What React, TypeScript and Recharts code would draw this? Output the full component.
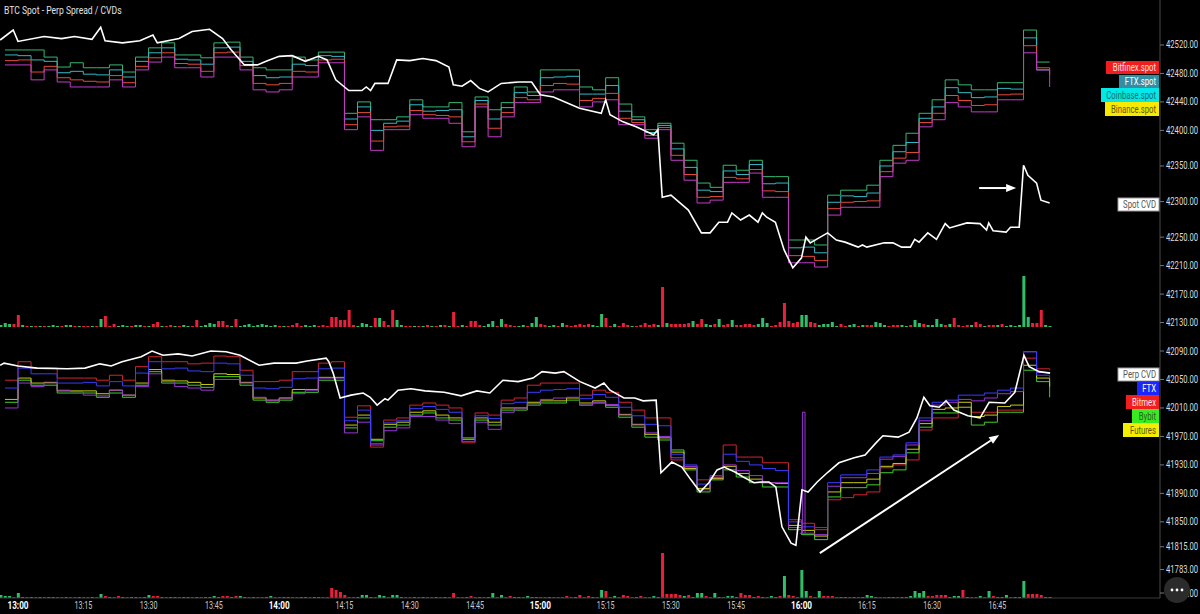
import React from 'react';
import { ComposedChart, Line, Bar, Cell, XAxis, YAxis, ReferenceLine } from 'recharts';

// minutes measured from 13:00
const FIRST_MIN = -4;
const PRICE_START = -3;
const PRICE_STEP = 3;
const START_HOUR = 13;

const timeTicks = [0, 15, 30, 45, 60, 75, 90, 105, 120, 135, 150, 165, 180, 195, 210, 225];
const priceTicks = [42520, 42480, 42440, 42400, 42350, 42300, 42250, 42210, 42170, 42130, 42090, 42050, 42010, 41970, 41930, 41890, 41850, 41815, 41783, 41750];

// ---- spot prices (3-minute steps from 12:57) ----
const coinbaseSpot = [42513, 42513, 42513, 42503, 42489, 42495, 42488, 42488, 42492, 42482,
  42503, 42516, 42523, 42506, 42506, 42502, 42523, 42524, 42503, 42488,
  42485, 42485, 42503, 42499, 42510, 42510, 42424, 42440, 42415, 42415,
  42419, 42443, 42433, 42433, 42439, 42398, 42447, 42429, 42439, 42461,
  42454, 42485, 42485, 42485, 42461, 42457, 42474, 42437, 42419, 42401,
  42410, 42382, 42358, 42326, 42320, 42351, 42344, 42358, 42335, 42335,
  42246, 42246, 42239, 42309, 42316, 42316, 42323, 42358, 42379, 42396,
  42424, 42443, 42471, 42464, 42457, 42457, 42467, 42467, 42541, 42496, 42496];
const ftxSpot = [42506, 42505, 42499, 42497, 42481, 42483, 42479, 42478, 42485, 42475,
  42497, 42509, 42516, 42500, 42499, 42493, 42516, 42517, 42497, 42477,
  42474, 42475, 42493, 42491, 42505, 42504, 42416, 42433, 42400, 42410,
  42413, 42436, 42427, 42428, 42429, 42391, 42442, 42416, 42432, 42453,
  42449, 42474, 42475, 42476, 42451, 42451, 42463, 42427, 42415, 42397,
  42407, 42374, 42348, 42316, 42314, 42343, 42338, 42352, 42325, 42326,
  42235, 42236, 42228, 42299, 42308, 42307, 42312, 42350, 42370, 42383,
  42417, 42433, 42460, 42453, 42446, 42447, 42459, 42458, 42530, 42485, 42484];
const bitfinexSpot = [42498, 42499, 42482, 42490, 42474, 42471, 42469, 42468, 42477, 42467,
  42490, 42502, 42509, 42494, 42493, 42483, 42509, 42510, 42491, 42466,
  42464, 42466, 42483, 42482, 42499, 42500, 42408, 42425, 42385, 42405,
  42406, 42428, 42422, 42421, 42419, 42384, 42437, 42403, 42425, 42446,
  42443, 42463, 42466, 42465, 42442, 42445, 42452, 42417, 42411, 42393,
  42404, 42365, 42338, 42306, 42307, 42334, 42332, 42345, 42315, 42314,
  42224, 42223, 42217, 42290, 42299, 42300, 42301, 42342, 42361, 42369,
  42411, 42424, 42449, 42442, 42435, 42436, 42450, 42451, 42519, 42488, 42478];
const binanceSpot = [42492, 42492, 42471, 42485, 42468, 42461, 42461, 42461, 42471, 42461,
  42485, 42496, 42503, 42488, 42488, 42475, 42503, 42503, 42485, 42457,
  42454, 42457, 42475, 42475, 42495, 42495, 42401, 42419, 42372, 42401,
  42401, 42422, 42417, 42417, 42410, 42377, 42433, 42391, 42419, 42439,
  42439, 42454, 42457, 42457, 42433, 42440, 42443, 42408, 42408, 42389,
  42401, 42358, 42330, 42298, 42302, 42327, 42327, 42340, 42306, 42306,
  42214, 42214, 42208, 42281, 42292, 42292, 42292, 42335, 42354, 42358,
  42405, 42415, 42439, 42433, 42426, 42426, 42443, 42443, 42509, 42485, 42461];

// ---- perp prices (same 3-minute steps) ----
const bitmexPerp = [42049, 42075, 42066, 42066, 42052, 42052, 42052, 42049, 42056, 42049,
  42068, 42082, 42075, 42075, 42072, 42073, 42083, 42082, 42063, 42047,
  42047, 42049, 42061, 42061, 42073, 42075, 41997, 42013, 41955, 41993,
  41996, 42014, 42017, 42014, 42010, 41961, 42003, 42000, 42021, 42024,
  42042, 42045, 42045, 42045, 42028, 42035, 42032, 42018, 42007, 41996,
  41996, 41937, 41927, 41909, 41913, 41958, 41941, 41941, 41933, 41933,
  41853, 41848, 41839, 41881, 41884, 41888, 41892, 41926, 41930, 41937,
  41979, 41996, 41996, 42011, 42004, 42004, 42007, 42007, 42080, 42065, 42063];
const bybitPerp = [42018, 42049, 42042, 42042, 42031, 42031, 42031, 42025, 42031, 42025,
  42042, 42061, 42045, 42045, 42042, 42039, 42054, 42054, 42042, 42021,
  42018, 42021, 42032, 42032, 42049, 42049, 41982, 41996, 41964, 41983,
  41986, 42000, 42003, 41996, 41993, 41968, 41993, 41986, 42007, 42007,
  42014, 42017, 42017, 42021, 42014, 42017, 42011, 41997, 41983, 41969,
  41965, 41951, 41923, 41892, 41909, 41923, 41913, 41905, 41899, 41899,
  41839, 41832, 41825, 41885, 41898, 41898, 41902, 41919, 41923, 41947,
  41983, 42003, 42003, 42011, 41986, 41990, 42004, 42004, 42063, 42047, 42025];
const ftxPerp = [42038, 42066, 42058, 42058, 42045, 42045, 42046, 42041, 42047, 42041,
  42059, 42075, 42065, 42066, 42062, 42061, 42073, 42072, 42056, 42038,
  42037, 42039, 42051, 42052, 42065, 42066, 41992, 42007, 41960, 41989,
  41992, 42009, 42012, 42008, 42004, 41963, 41999, 41995, 42016, 42018,
  42032, 42035, 42036, 42037, 42023, 42029, 42025, 42011, 41999, 41987,
  41985, 41945, 41930, 41903, 41915, 41945, 41935, 41930, 41925, 41922,
  41850, 41843, 41842, 41905, 41916, 41916, 41923, 41941, 41944, 41961,
  41996, 42018, 42021, 42028, 42028, 42031, 42035, 42038, 42089, 42056, 42052];
const otherPerp = [42010, 42045, 42040, 42045, 42035, 42033, 42028, 42027, 42035, 42028,
  42040, 42058, 42047, 42040, 42038, 42035, 42050, 42050, 42045, 42025,
  42020, 42024, 42030, 42035, 42052, 42052, 41975, 41990, 41958, 41978,
  41982, 41998, 41998, 41993, 41988, 41963, 41990, 41980, 42004, 42010,
  42016, 42022, 42024, 42025, 42014, 42018, 42015, 42000, 41986, 41975,
  41970, 41940, 41928, 41895, 41912, 41930, 41922, 41915, 41905, 41905,
  41842, 41834, 41832, 41900, 41912, 41912, 41918, 41938, 41942, 41958,
  41992, 42014, 42018, 42022, 42020, 42024, 42030, 42033, 42089, 42060, 42058];
const futuresPerp = [42022, 42052, 42045, 42046, 42034, 42034, 42034, 42030, 42035, 42028,
  42045, 42064, 42049, 42048, 42046, 42043, 42058, 42057, 42046, 42024,
  42021, 42024, 42036, 42036, 42053, 42053, 41986, 42000, 41966, 41987,
  41990, 42004, 42006, 42000, 41996, 41966, 41996, 41990, 42010, 42010,
  42018, 42020, 42020, 42024, 42017, 42020, 42014, 42001, 41987, 41973,
  41968, 41948, 41925, 41897, 41911, 41928, 41918, 41910, 41905, 41904,
  41845, 41838, 41830, 41892, 41905, 41905, 41910, 41928, 41932, 41952,
  41988, 42008, 42010, 42018, 41998, 42000, 42012, 42014, 42070, 42052, 42040];

// wick of the purple perp at 16:00
const spikeTimes = [179.6, 180.2, 180.8];
const spikeValues = [41834, 42004, 41834];

// ---- CVD lines ----
const spotCvdTimes = [-4.1, -1.1, 0, 6, 10, 13, 17, 19, 20, 24, 28, 31, 32, 37, 40, 44, 47, 49, 52, 55,
  57, 60, 63, 66, 69, 71, 73, 76, 79, 80, 81, 82, 85, 87, 90, 93, 96, 99, 100, 102,
  104, 106, 108, 111, 115, 118, 120, 123, 129, 134, 135, 136, 139, 142, 146, 147, 148, 150, 154, 157,
  159, 161, 163, 164, 166, 168, 170, 171, 172, 174, 176, 178, 180, 181, 182, 184, 186, 188, 190, 193,
  194, 195, 199, 201, 203, 205, 206, 207, 209, 211, 213, 214, 218, 221, 222.5, 223, 224, 227, 228, 230,
  231, 232, 234, 235, 237];
const spotCvdValues = [42527, 42541, 42525, 42532, 42529, 42532, 42528, 42545, 42526, 42523, 42526, 42534, 42523, 42529, 42539, 42542, 42529, 42513, 42492, 42492,
  42497, 42504, 42505, 42497, 42504, 42499, 42471, 42456, 42456, 42461, 42456, 42466, 42466, 42499, 42498, 42501, 42498, 42489, 42464, 42462,
  42470, 42459, 42454, 42466, 42468, 42468, 42450, 42447, 42431, 42424, 42443, 42422, 42412, 42405, 42394, 42401, 42306, 42309, 42288, 42256,
  42256, 42271, 42271, 42284, 42274, 42281, 42271, 42284, 42278, 42271, 42232, 42207, 42221, 42250, 42242, 42249, 42256, 42246, 42243, 42236,
  42239, 42236, 42242, 42242, 42236, 42236, 42247, 42243, 42256, 42247, 42269, 42263, 42270, 42269, 42260, 42270, 42259, 42257, 42264, 42264,
  42351, 42337, 42326, 42302, 42298];

const perpCvdTimes = [-4.1, -3.2, 0, 4.4, 11.3, 15.4, 18.8, 21.4, 23.9, 28.3, 30.8, 33.3, 36.8, 40, 44.3, 47.8, 51, 55.4, 58.8, 63.9,
  66.4, 70.8, 71.4, 72.4, 74, 76.5, 79.3, 80.9, 82.5, 84.3, 85, 87.3, 90.3, 93.5, 97.9, 101.8, 105.4, 108.4, 111.4, 114.9,
  118.3, 120.4, 123.4, 125.4, 129.1, 132.6, 134.6, 136, 139.2, 141.7, 143.6, 146.6, 147, 147.7, 150.2, 152.5, 154.6, 156.7, 158.7, 160.6,
  162.2, 164.7, 166.6, 169.1, 170.7, 172.5, 174.1, 175.5, 177.6, 178.7, 180.1, 181.5, 183.6, 186.1, 188.6, 192.1, 194.6, 197.1, 198.7, 202.2,
  204.7, 206.5, 208.1, 209.5, 211.6, 213.2, 215, 218.2, 221, 223.1, 226.7, 229, 231.1, 232.3, 234.6, 237.1];
const perpCvdValues = [42070, 42073, 42069, 42066, 42065, 42066, 42072, 42069, 42075, 42082, 42090, 42084, 42086, 42083, 42090, 42089, 42084, 42070, 42073, 42073,
  42076, 42080, 42075, 42059, 42024, 42028, 42031, 42025, 42014, 42023, 42021, 42035, 42037, 42034, 42032, 42027, 42034, 42031, 42049, 42047,
  42052, 42061, 42059, 42061, 42047, 42038, 42045, 42035, 42024, 42024, 42020, 42021, 41983, 41919, 41934, 41927, 41909, 41892, 41905, 41923,
  41927, 41920, 41913, 41905, 41906, 41906, 41899, 41843, 41820, 41817, 41895, 41892, 41906, 41920, 41933, 41940, 41944, 41961, 41971, 41969,
  41976, 41996, 42025, 42013, 42011, 42020, 42007, 41999, 41996, 42018, 42017, 42032, 42084, 42068, 42061, 42059];

// ---- 1-minute volumes from 12:56 (positive = buy/green, negative = sell/red) ----
const spotVolume = [2, 4, 3, -3, -12, 2, -1, 1, -1, 1,
  -1, 1, 2, 1, -1, 2, 2, -1, 1, -1,
  -1, 1, -1, 8, -11, -1, -3, 1, 2, 1,
  -1, 2, 2, -1, 1, -3, -5, 1, -1, -2,
  1, -1, 2, 1, -1, -7, 1, 2, 4, 3,
  -6, -6, -2, 1, -8, 1, 2, 3, 1, 2,
  3, 2, 1, 2, -1, 1, -1, -2, -4, -1,
  2, 1, 2, -1, -2, -1, -10, -10, -7, -7,
  -17, -2, 1, 4, 3, 1, -9, 9, -6, -2,
  -17, 7, 2, -1, -1, 1, -1, 1, -2, 1,
  -1, 2, -2, 1, -15, -1, 2, -1, -6, -6,
  -2, 1, 3, 6, -1, 8, -3, -2, -1, 1,
  2, -1, 4, 10, -3, -2, 1, 2, -1, 4,
  -2, -1, -2, -3, -2, -3, 2, 1, 13, -9,
  -1, 3, -1, -4, -2, 1, -1, -2, -4, -2,
  -3, 2, -40, 4, -3, -3, -3, -3, -4, 6,
  -3, -8, 3, 2, -3, 8, -2, -3, 7, -2,
  -2, -3, -3, -2, 3, 9, 4, -1, -2, -5,
  -24, -6, -4, -5, 12, 12, -5, -4, 2, 3,
  3, 5, 1, -3, -1, 2, 3, -1, 2, -2,
  -2, 5, 4, 2, -1, -2, -2, 2, 1, -2,
  7, 4, -3, 2, 2, 8, 3, -2, 3, -9,
  -2, -1, -2, 2, -5, -3, 1, -2, -2, 2,
  -3, 1, 2, 1, 2, 51, 10, -4, -4, -17,
  2, 1];
const perpVolume = [3, 2, 2, -1, 5, 1, -1, 1, -1, 1,
  -1, 1, 1, -1, -1, 1, -1, -1, 1, -1,
  -1, 1, -1, 4, -2, 1, -1, -2, 1, -1,
  1, 1, -1, 1, 3, -2, -2, 1, -1, 1,
  1, -1, 1, 1, -1, 1, -1, 1, 1, 2,
  1, -2, -2, 1, -2, 2, 1, -1, 1, -1,
  -1, 1, 2, -1, -1, 1, 1, -1, -1, 1,
  1, -1, 1, 1, -1, -1, -10, -8, -6, -3,
  -1, -1, 1, 3, 3, 1, -1, 3, 2, -1,
  3, 3, 1, -1, -1, 1, -1, 1, -1, -1,
  1, -1, 1, -1, -5, -1, -1, 1, -2, -1,
  1, -1, 1, 5, -1, 3, -1, -2, 1, 1,
  -1, 2, 1, 1, -1, -1, 1, -1, -1, -1,
  -2, -1, 1, -3, -1, -2, 1, -1, 8, -7,
  -1, 2, -1, -3, -2, -1, 1, -2, -1, -1,
  2, 1, -45, -4, -4, -4, -3, 2, -3, 1,
  5, 5, -2, -1, 5, 1, -1, 2, 2, 1,
  -5, -3, -3, 1, -2, 1, -1, 2, 1, -2,
  22, -3, -2, -1, 28, 7, -2, -1, 7, -2,
  -2, -2, -1, 1, 1, -1, 1, -1, 1, 3,
  2, 1, -1, -1, 1, 1, -1, 1, 1, 2,
  7, 5, 7, -2, -2, -3, -3, -3, 1, 2,
  2, -8, 1, -1, -1, 2, -1, 7, -2, 1,
  1, 3, -1, 1, 1, 17, -4, -4, -4, -3,
  1, 1];

// annotation arrows [startMinute, startValue, endMinute, endValue]
const spotArrow = [220.8, 42319, 229.3, 42319];
const perpArrow = [184.2, 41806, 225.4, 41972];

const priceSeries: Record<string, number[]> = {
  coinbaseSpot, ftxSpot, bitfinexSpot, binanceSpot,
  bitmexPerp, bybitPerp, futuresPerp, otherPerp, ftxPerp,
};

const rows: any[] = spotVolume.map((v, i) => ({
  t: FIRST_MIN + i,
  vt: Math.abs(v),
  vb: Math.abs(perpVolume[i]),
}));
coinbaseSpot.forEach((_, k) => {
  const t = PRICE_START + k * PRICE_STEP;
  const row = rows[t - FIRST_MIN];
  Object.keys(priceSeries).forEach((key) => {
    row[key] = priceSeries[key][k];
  });
});
const spotCvdData = spotCvdTimes.map((t, i) => ({ t, v: spotCvdValues[i] }));
const perpCvdData = perpCvdTimes.map((t, i) => ({ t, v: perpCvdValues[i] }));
const spikeData = spikeTimes.map((t, i) => ({ t, v: spikeValues[i] }));

const GREEN_VOL = '#2fbf69';
const RED_VOL = '#e8203a';
const FONT = 'Roboto, "Noto Sans", sans-serif';

const fmtTime = (m: number) => {
  const h = START_HOUR + Math.floor(m / 60);
  const mm = m % 60;
  return `${h}:${mm < 10 ? '0' + mm : mm}`;
};

const XTick = (props: any) => {
  const { x, y, payload } = props;
  const hour = payload.value % 60 === 0;
  return (
    <g transform={`translate(${x},${y + 11}) scale(${hour ? 0.78 : 0.68},1)`}>
      <text x={0} y={0} textAnchor="middle" fontFamily={FONT} fontSize={10.5}
        fontWeight={hour ? 700 : 400} fill={hour ? '#ffffff' : '#c9c9c9'}>
        {fmtTime(payload.value)}
      </text>
    </g>
  );
};

const YTick = (props: any) => {
  const { x, y, payload } = props;
  return (
    <g transform={`translate(${x},${y + 3.5}) scale(0.73,1)`}>
      <text x={0} y={0} textAnchor="start" fontFamily={FONT} fontSize={10.5} fill="#dcdcdc">
        {Number(payload.value).toFixed(2)}
      </text>
    </g>
  );
};

const Arrow = (props: any) => {
  const { x1, y1, x2, y2 } = props;
  if ([x1, y1, x2, y2].some((v) => typeof v !== 'number' || isNaN(v))) return null;
  const a = Math.atan2(y2 - y1, x2 - x1);
  const L = 10, W = 4;
  const bx = x2 - L * Math.cos(a);
  const by = y2 - L * Math.sin(a);
  const p1 = `${bx - W * Math.sin(a)},${by + W * Math.cos(a)}`;
  const p2 = `${bx + W * Math.sin(a)},${by - W * Math.cos(a)}`;
  return (
    <g>
      <line x1={x1} y1={y1} x2={bx} y2={by} stroke="#ffffff" strokeWidth={2} />
      <polygon points={`${x2},${y2} ${p1} ${p2}`} fill="#ffffff" />
    </g>
  );
};

const tags = [
  { text: 'Bitfinex.spot', x: 1106, y: 61, h: 13, fill: '#f21d1d', color: '#ffe0e0', sx: 0.74 },
  { text: 'FTX.spot', x: 1119, y: 75, h: 13, fill: '#348ea1', color: '#ffffff', sx: 0.74 },
  { text: 'Coinbase.spot', x: 1101, y: 88, h: 14, fill: '#00e8e8', color: '#1f6b6b', sx: 0.74 },
  { text: 'Binance.spot', x: 1105, y: 102, h: 14, fill: '#f7ea00', color: '#5b5600', sx: 0.74 },
  { text: 'Spot CVD', x: 1118, y: 198, h: 13, fill: '#ffffff', color: '#555555', sx: 0.74, border: true },
  { text: 'Perp CVD', x: 1118, y: 368, h: 13, fill: '#ffffff', color: '#555555', sx: 0.74, border: true },
  { text: 'FTX', x: 1137, y: 382, h: 13, fill: '#1c25ff', color: '#ffffff', sx: 0.74 },
  { text: 'Bitmex', x: 1126, y: 395, h: 14, fill: '#f21d1d', color: '#ffe6e6', sx: 0.74 },
  { text: 'Bybit', x: 1132, y: 409, h: 14, fill: '#39ec22', color: '#245f1a', sx: 0.74 },
  { text: 'Futures', x: 1123, y: 423, h: 14, fill: '#f3ef00', color: '#5a5600', sx: 0.74 },
];
const TAG_RIGHT = 1159;

const Overlay = () => (
  <svg width={1200} height={614} style={{ position: 'absolute', left: 0, top: 0, pointerEvents: 'none' }}>
    <g transform="translate(4,14) scale(0.78,1)">
      <text x={0} y={0} fontFamily={FONT} fontSize={11} fill="#e2e2e2">BTC Spot - Perp Spread / CVDs</text>
    </g>
    {tags.map((t) => (
      <g key={t.text + t.y}>
        <rect x={t.x} y={t.y} width={TAG_RIGHT - t.x} height={t.h} fill={t.fill}
          stroke={t.border ? '#9a9a9a' : 'none'} strokeWidth={t.border ? 1 : 0} />
        <g transform={`translate(${TAG_RIGHT - 3},${t.y + t.h / 2 + 3.6}) scale(${t.sx},1)`}>
          <text x={0} y={0} textAnchor="end" fontFamily={FONT} fontSize={10.5} fill={t.color}>{t.text}</text>
        </g>
      </g>
    ))}
    <circle cx={1177} cy={590} r={13} fill="#2b2b2b" />
    <circle cx={1172} cy={590} r={1.4} fill="#ffffff" />
    <circle cx={1177} cy={590} r={1.4} fill="#ffffff" />
    <circle cx={1182} cy={590} r={1.4} fill="#ffffff" />
  </svg>
);

const lineCommon = {
  xAxisId: 'main',
  yAxisId: 'p',
  dot: false,
  activeDot: false,
  connectNulls: true,
  isAnimationActive: false,
} as const;

export default function App() {
  const X_DOMAIN: [number, number] = [-4.135, 262.35];
  return (
    <div style={{ position: 'absolute', left: 0, top: 0, width: 1200, height: 614, background: '#000000', overflow: 'hidden' }}>
      <ComposedChart width={1200} height={614} data={rows} margin={{ top: 0, right: 0, left: 0, bottom: 0 }}>
        <XAxis xAxisId="main" type="number" dataKey="t" domain={X_DOMAIN} allowDataOverflow
          ticks={timeTicks} interval={0} height={16} tickLine={false} tickSize={0} tickMargin={0}
          axisLine={{ stroke: '#3a3a3a' }} tick={<XTick />} />
        <XAxis xAxisId="xTop" type="number" dataKey="t" domain={X_DOMAIN} allowDataOverflow hide />
        <XAxis xAxisId="xBot" type="number" dataKey="t" domain={X_DOMAIN} allowDataOverflow hide />
        <YAxis yAxisId="p" orientation="right" width={40} type="number" domain={[41743, 42583.2]}
          allowDataOverflow ticks={priceTicks} interval={0} tickSize={4} tickMargin={2}
          tickLine={{ stroke: '#777777' }} axisLine={{ stroke: '#4a4a4a' }} tick={<YTick />} />
        <YAxis yAxisId="vt" type="number" domain={[-271, 327]} allowDataOverflow hide />
        <YAxis yAxisId="vb" type="number" domain={[0, 598]} allowDataOverflow hide />

        <Bar xAxisId="xTop" yAxisId="vt" dataKey="vt" barSize={3} isAnimationActive={false}>
          {rows.map((r, i) => (
            <Cell key={`t${i}`} fill={spotVolume[i] >= 0 ? GREEN_VOL : RED_VOL} />
          ))}
        </Bar>
        <Bar xAxisId="xBot" yAxisId="vb" dataKey="vb" barSize={3} isAnimationActive={false}>
          {rows.map((r, i) => (
            <Cell key={`b${i}`} fill={perpVolume[i] >= 0 ? GREEN_VOL : RED_VOL} />
          ))}
        </Bar>

        <Line {...lineCommon} type="stepAfter" dataKey="coinbaseSpot" stroke="#35b873" strokeWidth={1} />
        <Line {...lineCommon} type="stepAfter" dataKey="ftxSpot" stroke="#33b9c6" strokeWidth={1} />
        <Line {...lineCommon} type="stepAfter" dataKey="bitfinexSpot" stroke="#e54a3a" strokeWidth={1} />
        <Line {...lineCommon} type="stepAfter" dataKey="binanceSpot" stroke="#c23dc6" strokeWidth={1} />

        <Line {...lineCommon} type="stepAfter" dataKey="bitmexPerp" stroke="#cf2530" strokeWidth={1} />
        <Line {...lineCommon} type="stepAfter" dataKey="bybitPerp" stroke="#3fcf2a" strokeWidth={1} />
        <Line {...lineCommon} type="stepAfter" dataKey="futuresPerp" stroke="#c9c81a" strokeWidth={1} />
        <Line {...lineCommon} type="stepAfter" dataKey="otherPerp" stroke="#9a35d6" strokeWidth={1} />
        <Line {...lineCommon} type="stepAfter" dataKey="ftxPerp" stroke="#3b3bff" strokeWidth={1} />
        <Line {...lineCommon} type="stepAfter" data={spikeData} dataKey="v" stroke="#9a35d6" strokeWidth={1} />

        <Line {...lineCommon} type="linear" data={spotCvdData} dataKey="v" stroke="#ffffff" strokeWidth={1.6} />
        <Line {...lineCommon} type="linear" data={perpCvdData} dataKey="v" stroke="#ffffff" strokeWidth={1.6} />

        <ReferenceLine xAxisId="main" yAxisId="p" ifOverflow="visible"
          segment={[{ x: spotArrow[0], y: spotArrow[1] }, { x: spotArrow[2], y: spotArrow[3] }]}
          shape={(p: any) => <Arrow {...p} />} />
        <ReferenceLine xAxisId="main" yAxisId="p" ifOverflow="visible"
          segment={[{ x: perpArrow[0], y: perpArrow[1] }, { x: perpArrow[2], y: perpArrow[3] }]}
          shape={(p: any) => <Arrow {...p} />} />
      </ComposedChart>
      <Overlay />
    </div>
  );
}
